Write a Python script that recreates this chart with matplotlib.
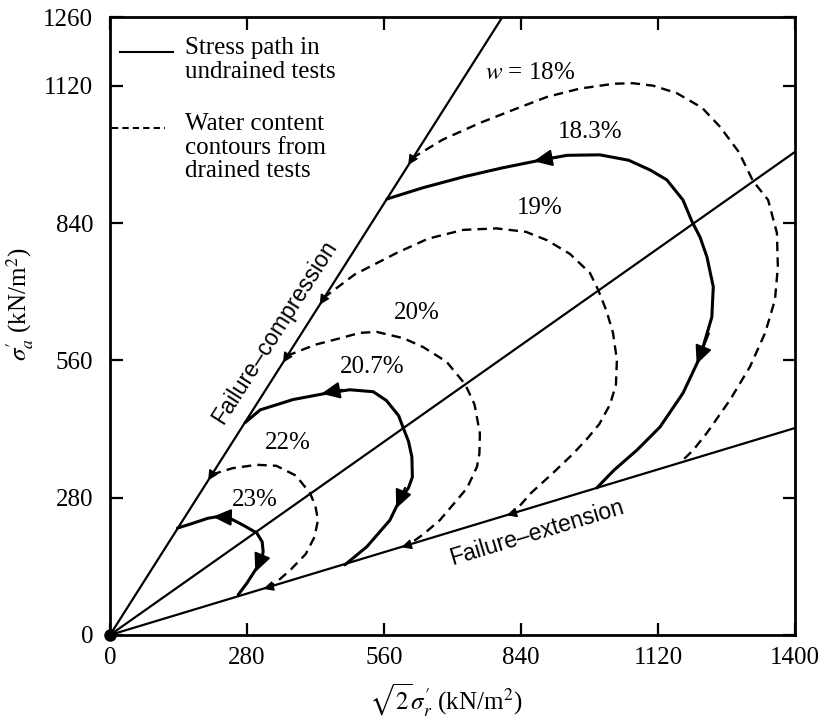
import matplotlib
matplotlib.use("Agg")
import matplotlib.pyplot as plt

plt.rcParams['font.family'] = ['Liberation Serif', 'DejaVu Serif']
plt.rcParams['mathtext.fontset'] = 'stix'

# failure / isotropic lines (end points)
comp_x = [0, 802]
comp_y = [0, 1260]
iso_x = [0, 1400]
iso_y = [0, 985]
ext_x = [0, 1400]
ext_y = [0, 422]

# undrained stress paths (solid)
p23_x = [138, 170, 200, 218, 245, 272, 300, 311, 313, 310, 300, 280, 262]
p23_y = [218, 228, 238, 241, 238, 224, 208, 190, 170, 153, 137, 106, 82]
p207_x = [276, 307, 374, 443, 490, 538, 565, 590, 599, 610, 617, 618, 610, 589, 572, 525, 480]
p207_y = [433, 459, 480, 493, 500, 496, 478, 447, 423, 395, 363, 322, 300, 269, 234, 180, 143]
p183_x = [566, 640, 722, 800, 879, 934, 1001, 1060, 1104, 1138, 1171, 1189, 1206, 1220, 1233,
          1230, 1206, 1171, 1124, 1077, 1030, 995]
p183_y = [889, 912, 934, 952, 968, 978, 979, 968, 948, 928, 887, 844, 811, 771, 710,
          648, 567, 493, 424, 377, 336, 300]

# water content contours (dashed)
w18_x = [617, 680, 756, 830, 893, 960, 1030, 1069, 1110, 1158, 1210, 1247, 1285, 1314,
         1345, 1363, 1365, 1359, 1339, 1308, 1267, 1220, 1192, 1165]
w18_y = [972, 1010, 1044, 1073, 1097, 1114, 1124, 1125, 1120, 1105, 1075, 1036, 985, 926,
         887, 820, 750, 683, 616, 547, 479, 412, 377, 351]
w19_x = [436, 500, 586, 650, 722, 790, 850, 893, 940, 981, 998, 1015, 1028, 1036, 1034,
         1022, 1000, 975, 945, 905, 860, 824]
w19_y = [687, 735, 779, 808, 826, 829, 822, 805, 777, 738, 703, 660, 616, 561, 510,
         470, 430, 400, 368, 330, 289, 248]
w20_x = [361, 420, 470, 511, 545, 600, 640, 688, 726, 745, 756, 755, 750, 730, 709, 674, 640, 609]
w20_y = [569, 592, 605, 616, 618, 605, 587, 557, 511, 470, 411, 370, 343, 300, 275, 234, 205, 183]
w22_x = [208, 250, 300, 340, 380, 409, 420, 425, 418, 400, 368, 345, 327]
w22_y = [327, 340, 347, 345, 325, 289, 262, 234, 200, 165, 132, 112, 98]

# labels
pct_text = ["$w$ = 18%", "18.3%", "19%", "20%", "20.7%", "22%", "23%"]
pct_x = [858, 981, 879, 628, 536, 364, 296]
pct_y = [1146, 1025, 870, 656, 546, 391, 275]

fig = plt.figure(figsize=(8.24, 7.21), dpi=100)
ax = fig.add_axes([0.1335, 0.1193, 0.8313, 0.8571])

lw_line = 1.6
ax.plot(comp_x, comp_y, color='k', lw=lw_line)
ax.plot(iso_x, iso_y, color='k', lw=lw_line)
ax.plot(ext_x, ext_y, color='k', lw=lw_line)
ax.plot([0], [0], 'ko', ms=8, clip_on=False)

for xs, ys in [(p23_x, p23_y), (p207_x, p207_y), (p183_x, p183_y)]:
    ax.plot(xs, ys, color='k', lw=2.2, solid_capstyle='round', solid_joinstyle='round')

dash = (0, (4, 2.6))
for xs, ys in [(w18_x, w18_y), (w19_x, w19_y), (w20_x, w20_y), (w22_x, w22_y)]:
    ax.plot(xs, ys, color='k', lw=1.7, linestyle=dash)

# arrows on stress paths
def arrow(tail, tip, size=16):
    ax.annotate('', xy=tip, xytext=tail,
                arrowprops=dict(arrowstyle='-|>,head_length=0.7,head_width=0.32',
                                color='k', lw=1.5, mutation_scale=size,
                                shrinkA=0, shrinkB=0))

arrow((240, 240), (210, 241))
arrow((311, 162), (297, 128))
arrow((475, 500), (432, 492))
arrow((603, 300), (585, 258))
arrow((915, 975), (866, 966))
arrow((1224, 615), (1199, 552))

# small arrow marks where contours meet failure lines
for (x0, y0), slope in [((208, 327), 1.571), ((361, 567), 1.571), ((436, 685), 1.571),
                        ((617, 970), 1.571), ((327, 98), 0.3014), ((609, 183), 0.3014),
                        ((824, 248), 0.3014)]:
    d = 14 / (1 + slope ** 2) ** 0.5
    ax.annotate('', xy=(x0 - d, y0 - d * slope), xytext=(x0, y0),
                arrowprops=dict(arrowstyle='-|>,head_length=0.6,head_width=0.3',
                                color='k', lw=1, mutation_scale=10,
                                shrinkA=0, shrinkB=0))

for t, x, y in zip(pct_text, pct_x, pct_y):
    ax.text(x, y, t, fontsize=18, ha='center', va='center')

ax.text(337, 618, 'Failure–compression', family='Liberation Sans', fontsize=16.5,
        rotation=57.5, rotation_mode='anchor', ha='center', va='center')
ax.text(873, 208, 'Failure–extension', family='Liberation Sans', fontsize=16.5,
        rotation=16.8, rotation_mode='anchor', ha='center', va='center')

# legend drawn by hand
ax.plot([0.0146, 0.092], [0.943, 0.943], color='k', lw=1.5, transform=ax.transAxes)
ax.text(0.1095, 0.968, 'Stress path in\nundrained tests', transform=ax.transAxes,
        fontsize=18, va='top', ha='left', linespacing=1.15)
ax.plot([0.003, 0.08], [0.820, 0.820], color='k', lw=1.5, linestyle=(0, (3, 2)),
        transform=ax.transAxes)
ax.text(0.1095, 0.845, 'Water content\ncontours from\ndrained tests', transform=ax.transAxes,
        fontsize=18, va='top', ha='left', linespacing=1.1)

ax.set_xlim(0, 1400)
ax.set_ylim(0, 1260)
ax.set_xticks([0, 280, 560, 840, 1120, 1400])
ax.set_yticks([0, 280, 560, 840, 1120, 1260])
ax.tick_params(direction='in', length=9, width=1.6, top=True, right=True, labelsize=18)
ax.tick_params(axis='x', pad=9)
ax.tick_params(axis='y', pad=12)
for s in ax.spines.values():
    s.set_linewidth(2)

ax.set_xlabel(r"$\sqrt{2}\sigma_r'$ (kN/m$^2$)", fontsize=18)
ax.set_ylabel(r"$\sigma_a'$ (kN/m$^2$)", fontsize=18)
ax.xaxis.set_label_coords(0.49, -0.075)
ax.yaxis.set_label_coords(-0.108, 0.535)

fig.savefig('out.png', dpi=100)
